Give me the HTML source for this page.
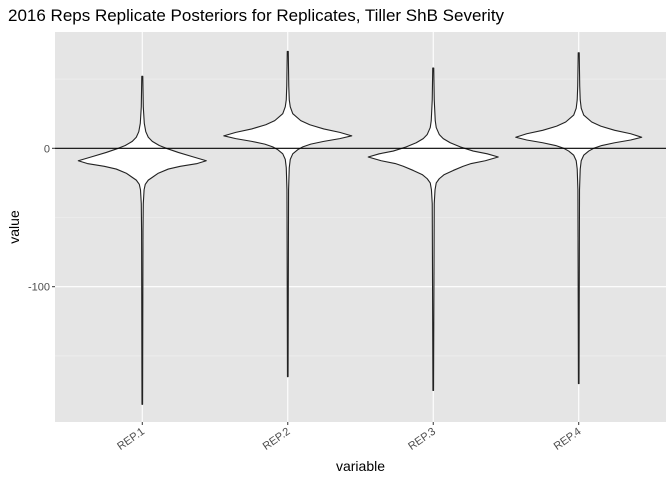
<!DOCTYPE html>
<html><head><meta charset="utf-8"><style>
body{margin:0;background:#fff;font-family:"Liberation Sans",sans-serif}
</style></head><body>
<svg id="c" width="672" height="480" xmlns="http://www.w3.org/2000/svg" font-family="Liberation Sans, sans-serif"></svg>
<script>
const categories=["REP.1","REP.2","REP.3","REP.4"];
const yTicks=[0,-100];
const yMinor=[50,-50,-150];
const prof1=[[52,0.5],[30,1],[18,2],[12,3.5],[8,6],[5,10],[2,17],[0,24],[-3,36],[-6,50],[-9,64],[-11,55],[-13,38],[-15,26],[-18,16],[-21,10],[-23,6],[-26,3],[-30,1.8],[-40,1],[-60,0.7],[-185,0.3]];
const prof2=[[70,0.5],[45,1],[35,1.5],[30,2.5],[25,5],[20,13],[17,22],[14,36],[11.5,52],[9,64],[7,52],[5,36],[3,23],[1,15],[-1,10],[-4,5],[-8,2.5],[-14,1.5],[-30,0.8],[-165,0.3]];
const prof3=[[58,0.5],[35,1],[20,2],[15,3],[10,6],[7,10],[4,17],[1,27],[-2,40],[-4,54],[-6.3,65],[-9,52],[-11,38],[-13,30],[-16,20],[-19,11],[-22,6],[-25,3],[-30,1.8],[-40,1],[-175,0.3]];
const prof4=[[69,0.5],[45,1],[35,1.5],[29,2.5],[24,5],[19,13],[16,22],[13,36],[10.5,52],[8,63],[6,52],[4,36],[2,23],[0,15],[-2,10],[-5,5],[-9,2.5],[-15,1.5],[-30,0.8],[-170,0.3]];
const profiles=[prof1,prof2,prof3,prof4];
const NS="http://www.w3.org/2000/svg",svg=document.getElementById('c');
const L=55,R=666,T=32,B=422;
const y=v=>148.3-v*1.384;
const x=i=>L+(R-L)*(i+0.6)/(categories.length-1+1.2);
function mk(t,a,p){const e=document.createElementNS(NS,t);for(const k in a)e.setAttribute(k,a[k]);(p||svg).appendChild(e);return e;}
const title=mk('text',{x:8,y:21,'font-size':17,fill:'#000'});title.textContent="2016 Reps Replicate Posteriors for Replicates, Tiller ShB Severity";


const panel=mk('rect',{x:L,y:T,width:R-L,height:B-T,fill:'#e5e5e5'});


yMinor.forEach(v=>{const g=mk('line',{x1:L,x2:R,y1:y(v),y2:y(v),stroke:'#f2f2f2','stroke-width':0.6});

});
yTicks.forEach(v=>{const g=mk('line',{x1:L,x2:R,y1:y(v),y2:y(v),stroke:'#fff','stroke-width':1.1});


const t=mk('text',{x:L-5,y:y(v)+4,'font-size':11,fill:'#4d4d4d','text-anchor':'end'});t.textContent=v;


mk('line',{x1:L-3,x2:L,y1:y(v),y2:y(v),stroke:'#333'});});
categories.forEach((c,i)=>{const g=mk('line',{x1:x(i),x2:x(i),y1:T,y2:B,stroke:'#fff','stroke-width':1.1});


mk('line',{x1:x(i),x2:x(i),y1:B,y2:B+3,stroke:'#333'});
const t=mk('text',{x:0,y:0,'font-size':11,fill:'#4d4d4d','text-anchor':'end',transform:`translate(${x(i)+3},${B+11}) rotate(-35)`});t.textContent=c;

});
profiles.forEach((p,i)=>{const cx=x(i);let d='M'+cx+','+y(p[0][0]);
p.forEach(q=>d+=' L'+(cx+q[1])+','+y(q[0]));
for(let k=p.length-1;k>=0;k--)d+=' L'+(cx-p[k][1])+','+y(p[k][0]);d+='Z';
const v=mk('path',{d:d,fill:'#fff',stroke:'#222','stroke-width':1.1,'stroke-linejoin':'round'});

});
const h=mk('line',{x1:L,x2:R,y1:y(0),y2:y(0),stroke:'#000','stroke-width':1.2});


const xt=mk('text',{x:(L+R)/2,y:471,'font-size':14,'text-anchor':'middle'});xt.textContent='variable';


const yt=mk('text',{x:0,y:0,'font-size':14,'text-anchor':'middle',transform:`translate(19,${(T+B)/2}) rotate(-90)`});yt.textContent='value';


</script>
</body></html>
